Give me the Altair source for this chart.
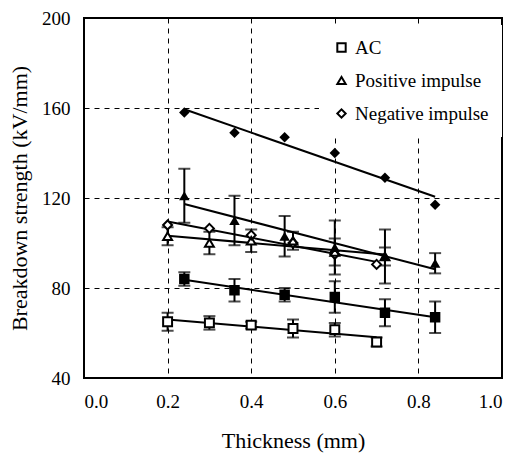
import altair as alt
import pandas as pd

# ---- data ----
series_names = ["AC", "Positive impulse", "Negative impulse"]
series_shapes = ["square", "triangle-up", "diamond"]

# open markers (legend series)
ac_open_x = [0.2, 0.3, 0.4, 0.5, 0.6, 0.7]
ac_open_y = [65, 64.5, 63.5, 62, 61.5, 56]
ac_open_err = [4, 3, 1.5, 4, 3, 2]

pi_open_x = [0.2, 0.3, 0.4, 0.5, 0.6, 0.72]
pi_open_y = [103, 100, 101, 101, 96, 94]
pi_open_err = [4, 5, 5, 4, 6, 4]

ni_open_x = [0.2, 0.3, 0.4, 0.5, 0.6, 0.7]
ni_open_y = [108, 106.5, 103.5, 100, 95, 90.5]
ni_open_err = [0, 0, 0, 0, 0, 0]

# filled markers
ac_fill_x = [0.24, 0.36, 0.48, 0.6, 0.72, 0.84]
ac_fill_y = [84, 79, 77, 76, 69, 67]
ac_fill_err = [3, 5, 3, 7, 6, 7]

pi_fill_x = [0.24, 0.36, 0.48, 0.6, 0.72, 0.84]
pi_fill_y = [121, 110, 103, 98, 94, 91]
pi_fill_err = [12, 11, 9, 12, 12, 4.5]

ni_fill_x = [0.24, 0.36, 0.48, 0.6, 0.72, 0.84]
ni_fill_y = [158, 149, 147, 140, 129, 117]
ni_fill_err = [0, 0, 0, 0, 0, 0]

x_ticks = [0.0, 0.2, 0.4, 0.6, 0.8, 1.0]
y_ticks = [40, 80, 120, 160, 200]

# ---- build table ----
rows = []
def add(name, shape, style, xs, ys, es):
    for x, y, e in zip(xs, ys, es):
        rows.append(dict(series=name, sym=shape, style=style, group=name + "|" + style,
                         x=x, y=y, lo=y - e, hi=y + e, err=e))

add("AC", "square", "open", ac_open_x, ac_open_y, ac_open_err)
add("Positive impulse", "triangle-up", "open", pi_open_x, pi_open_y, pi_open_err)
add("Negative impulse", "diamond", "open", ni_open_x, ni_open_y, ni_open_err)
add("AC", "square", "filled", ac_fill_x, ac_fill_y, ac_fill_err)
add("Positive impulse", "triangle-up", "filled", pi_fill_x, pi_fill_y, pi_fill_err)
add("Negative impulse", "diamond", "filled", ni_fill_x, ni_fill_y, ni_fill_err)
df = pd.DataFrame(rows)

FONT = "Liberation Serif"

xs = alt.Scale(domain=[0, 1], nice=False, zero=False)
ys = alt.Scale(domain=[40, 200], nice=False, zero=False)

x_axis = alt.Axis(values=x_ticks, format=".1f", title="Thickness (mm)",
                  grid=True, gridDash=[5, 5], gridColor="black", gridWidth=1,
                  ticks=False, domain=False, labelPadding=14, titlePadding=19,
                  labelFont=FONT, labelFontSize=19, labelColor="black",
                  titleFont=FONT, titleFontSize=22, titleColor="black", titleFontWeight="normal")
y_axis = alt.Axis(values=y_ticks, format="d", title="Breakdown strength (kV/mm)",
                  grid=True, gridDash=[5, 5], gridColor="black", gridWidth=1,
                  ticks=False, domain=False, labelPadding=14, titlePadding=10,
                  labelFont=FONT, labelFontSize=19, labelColor="black",
                  titleFont=FONT, titleFontSize=22, titleColor="black", titleFontWeight="normal")

base = alt.Chart(df)

lines = base.transform_regression("x", "y", groupby=["group"]).mark_line(
    color="black", strokeWidth=2
).encode(
    x=alt.X("x:Q", scale=xs, axis=x_axis),
    y=alt.Y("y:Q", scale=ys, axis=y_axis),
    detail="group:N",
)

eb = base.transform_filter("datum.err > 0")
err_rule = eb.mark_rule(color="black", strokeWidth=2).encode(
    x="x:Q", y="lo:Q", y2="hi:Q"
)
cap_hi = eb.mark_tick(color="black", orient="horizontal", size=12, thickness=2).encode(
    x="x:Q", y="hi:Q"
)
cap_lo = eb.mark_tick(color="black", orient="horizontal", size=12, thickness=2).encode(
    x="x:Q", y="lo:Q"
)

open_src = base.transform_filter("datum.style == 'open'")

# white backing so lines do not show through the open markers
open_back = open_src.mark_point(filled=True, color="white", size=80, opacity=1).encode(
    x="x:Q", y="y:Q",
    shape=alt.Shape("sym:N", scale=None, legend=None),
)

open_pts = open_src.mark_point(
    filled=False, color="black", strokeWidth=2, size=80, opacity=1
).encode(
    x="x:Q", y="y:Q",
    shape=alt.Shape("series:N",
                    scale=alt.Scale(domain=series_names, range=series_shapes),
                    sort=series_names,
                    legend=alt.Legend(title=None, orient="none", legendX=235, legendY=7,
                                      padding=13, fillColor="white",
                                      labelFont=FONT, labelFontSize=19, labelColor="black",
                                      symbolStrokeColor="black",
                                      symbolStrokeWidth=2, symbolSize=70, symbolOpacity=1,
                                      rowPadding=13, labelOffset=4)),
)

fill_pts = base.transform_filter("datum.style == 'filled'").mark_point(
    filled=True, color="black", size=110, opacity=1
).encode(
    x="x:Q", y="y:Q",
    shape=alt.Shape("sym:N", scale=None, legend=None),
)

chart = alt.layer(lines, err_rule, cap_hi, cap_lo, open_back, open_pts, fill_pts).resolve_scale(
    shape="independent"
).properties(
    width=418, height=360,
    padding={"left": 76, "top": 10, "right": 5, "bottom": 80},
    autosize=alt.AutoSizeParams(type="none"),
    background="white",
).configure_view(
    stroke="black", strokeWidth=2
)

chart.save("out.html", embed_options={"renderer": "svg", "actions": False})
